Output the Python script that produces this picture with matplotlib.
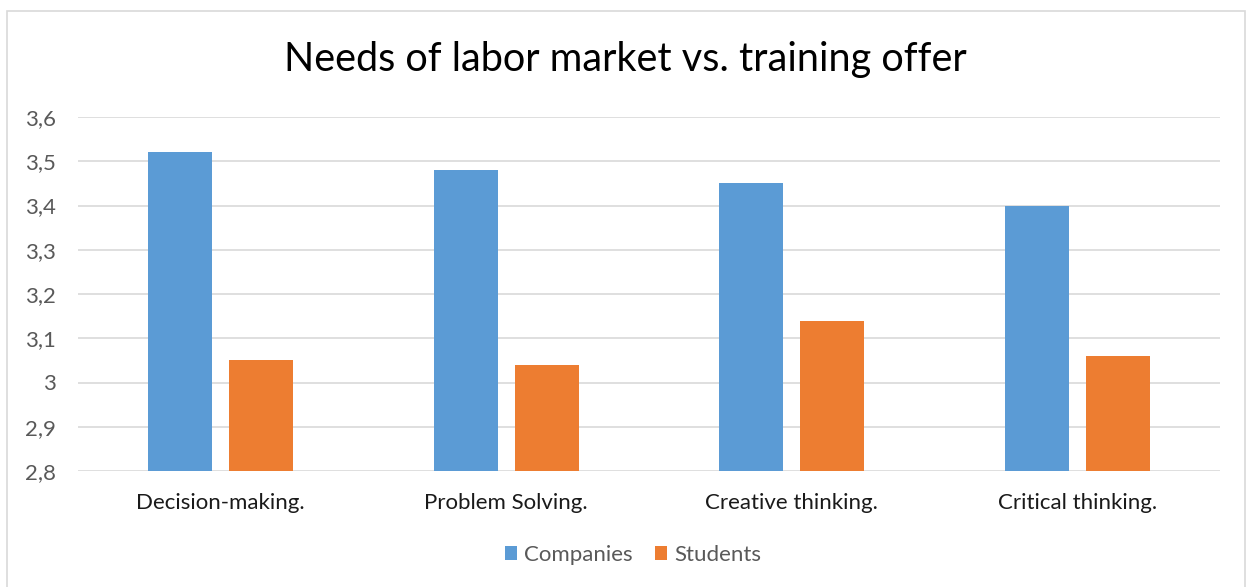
import numpy as np
import matplotlib.pyplot as plt
from matplotlib.patches import Rectangle

plt.rcParams['font.family'] = ['Lato', 'DejaVu Sans']

categories = ['Decision-making.', 'Problem Solving.', 'Creative thinking.', 'Critical thinking.']
companies = [3.52, 3.48, 3.45, 3.40]
students = [3.05, 3.04, 3.14, 3.06]
yticks = [2.8, 2.9, 3.0, 3.1, 3.2, 3.3, 3.4, 3.5, 3.6]
ytick_labels = ['2,8', '2,9', '3', '3,1', '3,2', '3,3', '3,4', '3,5', '3,6']

blue = '#5B9BD5'
orange = '#ED7D31'
grey = '#595959'

fig = plt.figure(figsize=(12.5, 5.87), dpi=100)
ax = fig.add_axes([78/1250, 1-471/587, (1220-78)/1250, (471-117)/587])

# chart border
fig.patches.append(Rectangle((7/1250, -0.01), (1245-7)/1250, 1-11/587+0.01,
                             transform=fig.transFigure, fill=False,
                             edgecolor='#D9D9D9', linewidth=1.2))

x = np.arange(len(categories))
w = 0.224
ax.bar(x - 0.142, np.array(companies) - 2.8, w, bottom=2.8, color=blue, label='Companies', zorder=3)
ax.bar(x + 0.142, np.array(students) - 2.8, w, bottom=2.8, color=orange, label='Students', zorder=3)

ax.set_xlim(-0.5, 3.5)
ax.set_ylim(2.8, 3.6)
ax.set_yticks(yticks)
ax.set_yticklabels(ytick_labels, fontsize=16, color=grey)
ax.set_xticks(x)
ax.set_xticklabels(categories, fontsize=16, color='#1a1a1a')
ax.tick_params(axis='both', length=0)
ax.tick_params(axis='y', pad=16)
ax.tick_params(axis='x', pad=16)
ax.grid(axis='y', color='#D9D9D9', linewidth=1.2, zorder=0)
for s in ax.spines.values():
    s.set_visible(False)

fig.text(0.5, 1-60/587, 'Needs of labor market vs. training offer', ha='center', va='center',
         fontsize=28.5, color='black')

fig.legend(loc='center', bbox_to_anchor=(0.5 + 8/1250, 1-555/587), ncol=2, frameon=False,
           fontsize=16, handlelength=0.55, handleheight=0.55, handletextpad=0.3,
           columnspacing=1.0, labelcolor=grey)

fig.savefig('out.png', dpi=100)
